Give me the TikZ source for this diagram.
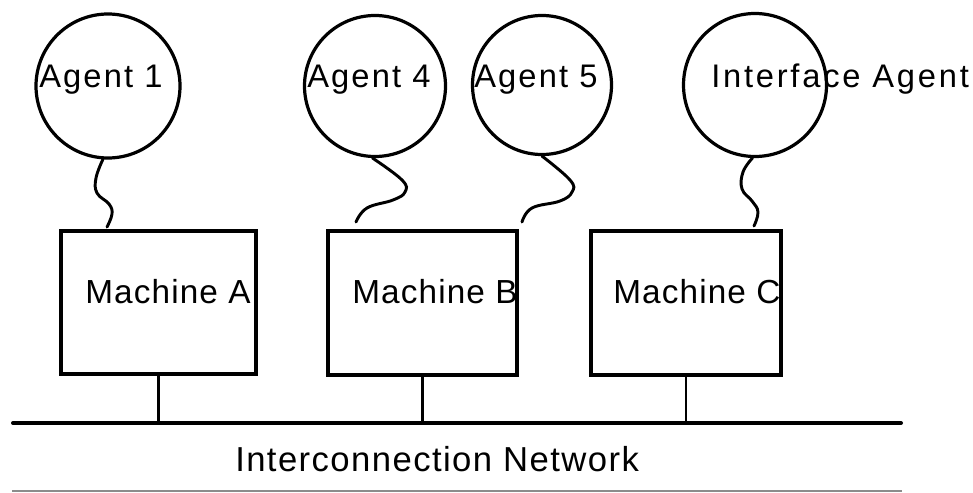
\documentclass[tikz,border=0pt]{standalone}
\usepackage{fontspec}
\setmainfont{Liberation Sans}
\begin{document}
\begin{tikzpicture}[x=0.75pt,y=-0.75pt,
  agent/.style={circle,draw,line width=2.4pt,inner sep=0pt},
  machine/.style={rectangle,draw,line width=2.3pt,inner sep=0pt},
  agentlbl/.style={anchor=base west,inner sep=0pt,font=\fontsize{24.5}{28}\selectfont\addfontfeatures{LetterSpace=6.5}},
  machlbl/.style={anchor=base west,inner sep=0pt,font=\fontsize{25}{30}\selectfont\addfontfeatures{LetterSpace=3.4}},
  netlbl/.style={anchor=base west,inner sep=0pt,font=\fontsize{26}{30}\selectfont\addfontfeatures{LetterSpace=4.1}},
  string/.style={line width=2.2pt,line cap=round},
  stub/.style={line width=1.7pt},
  bus/.style={line width=3pt,line cap=round}]
\useasboundingbox (0,0) rectangle (973,492);
% agents
\node[agent,minimum size=144*0.75pt] (a1) at (108,86) {};
\node[agent,minimum size=141*0.75pt] (a4) at (375,86) {};
\node[agent,minimum size=139*0.75pt] (a5) at (542,85) {};
\node[agent,minimum size=143*0.75pt] (ai) at (755,85) {};
\node[agentlbl] (t1) at (39,87) {Agent 1};
\node[agentlbl] (t4) at (307,87) {Agent 4};
\node[agentlbl] (t5) at (474,87) {Agent 5};
\node[agentlbl,font=\fontsize{24.5}{28}\selectfont\addfontfeatures{LetterSpace=8.5}] (ti) at (711,87) {Interface Agent};
% machines
\node[machine,minimum width=195*0.75pt,minimum height=143*0.75pt] (mA) at (158.5,302.5) {};
\node[machine,minimum width=189*0.75pt,minimum height=144*0.75pt] (mB) at (422.5,303) {};
\node[machine,minimum width=190*0.75pt,minimum height=144*0.75pt] (mC) at (686,303) {};
\node[machlbl] (tA) at (85,303) {Machine A};
\node[machlbl] (tB) at (352,303) {Machine B};
\node[machlbl] (tC) at (613,303) {Machine C};
% strings
\coordinate (eA) at (107,227);
\coordinate (eB) at (356,222);
\coordinate (eB2) at (522,222);
\coordinate (eC) at (754,226);
\draw[string] plot[smooth,tension=0.7] coordinates {(a1.266) (96,178) (97,193) (109,204) (112,214) (eA)};
\draw[string] plot[smooth,tension=0.7] coordinates {(a4.268) (402,180) (405,192) (393,200) (367,208) (eB)};
\draw[string] plot[smooth,tension=0.7] coordinates {(a5.270) (570,180) (572,192) (560,201) (532,208) (eB2)};
\draw[string] plot[smooth,tension=0.7] coordinates {(ai.268) (743,172) (742,189) (752,201) (758,212) (eC)};
% network
\coordinate (nL) at (13,423);
\coordinate (nR) at (901,423);
\draw[bus] (nL) -- (nR);
\draw[stub] (mA.south) -- (mA.south |- nL);
\draw[stub] (mB.south) -- (mB.south |- nL);
\draw[stub] (mC.south) -- (mC.south |- nL);
\node[netlbl] (net) at (235,471) {Interconnection Network};
\coordinate (gL) at (12,491);
\coordinate (gR) at (902,491);
\draw[line width=1.5pt,black!45] (gL) -- (gR);
\end{tikzpicture}
\end{document}
